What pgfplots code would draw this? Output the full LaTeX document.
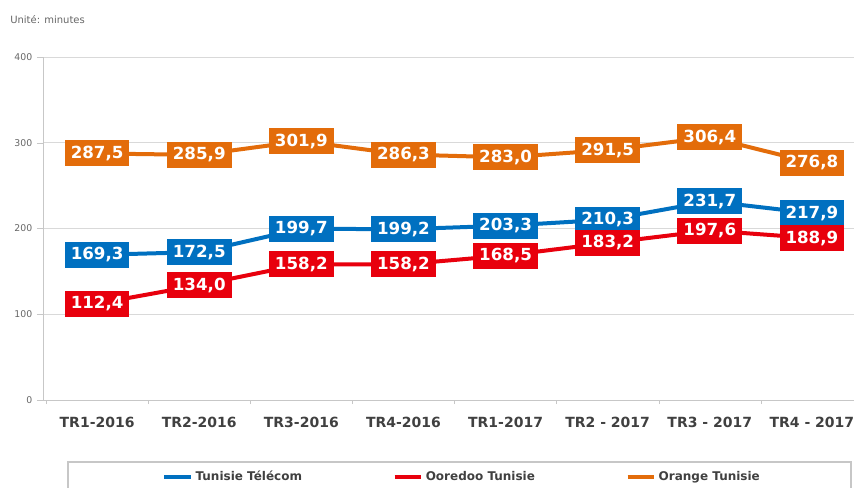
\documentclass[border=0pt]{standalone}
\usepackage{pgfplots}
\pgfplotsset{compat=1.18}
\usepackage{fontspec}
\setmainfont{DejaVu Sans}
\definecolor{tt}{HTML}{0070C0}
\definecolor{oo}{HTML}{E8000D}
\definecolor{orng}{HTML}{E36C0A}
\definecolor{gridc}{HTML}{D9D9D9}
\definecolor{txt}{HTML}{404040}

\begin{document}
\begin{tikzpicture}
% 1px of the reference = 0.75pt
\clip (0,0) rectangle (640.5pt,-365.25pt);
\node[anchor=west, text=txt!80, font=\fontsize{7.5}{9}\selectfont, inner sep=0pt] at (7.5pt,-15pt) {Unité: minutes};
\begin{axis}[
  at={(32.25pt,-300pt)}, anchor=south west,
  scale only axis, width=617.25pt, height=257.25pt,
  xmin=-0.53, xmax=7.53, ymin=0, ymax=400,
  axis lines*=left, axis line style={gridc!80!gray},
  ytick={0,100,...,400}, ymajorgrids, grid style={gridc, line width=0.6pt},
  yticklabel style={font=\fontsize{7}{9}\selectfont, text=txt!80},
  /pgf/number format/assume math mode=true,
  xtick={0,...,7},
  xticklabels={TR1-2016,TR2-2016,TR3-2016,TR4-2016,TR1-2017,TR2 - 2017,TR3 - 2017,TR4 - 2017},
  xticklabel style={font=\bfseries\fontsize{10.5}{12}\selectfont, text=txt, yshift=-4.5pt},
  major x tick style={draw=none},
  minor xtick={-0.5,0.5,...,7.5},
  tick align=outside, major tick length=4.5pt, minor tick length=3pt,
  tick style={gridc!80!gray},
  nodes near coords={\pgfmathprintnumber[fixed,fixed zerofill,precision=1,use comma]{\pgfplotspointmeta}},
  every node near coord/.append style={anchor=center, text=white,
    font=\bfseries\fontsize{12.5}{14}\selectfont, inner xsep=4.5pt, inner ysep=0pt, minimum height=19.5pt},
  legend columns=3,
  legend style={draw=none, fill=none, at={(0.14,-0.2245)}, anchor=west,
    font=\bfseries\fontsize{9}{10}\selectfont, text=txt,
    /tikz/every even column/.append style={column sep=66pt}},
  legend image code/.code={\draw[#1, line width=2.8pt] (0pt,0pt) -- (20pt,0pt);},
]
\addplot[tt, line width=3pt, every node near coord/.append style={fill=tt}] coordinates {
(0,169.3) (1,172.5) (2,199.7) (3,199.2) (4,203.3) (5,210.3) (6,231.7) (7,217.9)
};
\addlegendentry{Tunisie Télécom}
\addplot[oo, line width=3pt, every node near coord/.append style={fill=oo}] coordinates {
(0,112.4) (1,134.0) (2,158.2) (3,158.2) (4,168.5) (5,183.2) (6,197.6) (7,188.9)
};
\addlegendentry{Ooredoo Tunisie}
\addplot[orng, line width=3pt, every node near coord/.append style={fill=orng}] coordinates {
(0,287.5) (1,285.9) (2,301.9) (3,286.3) (4,283.0) (5,291.5) (6,306.4) (7,276.8)
};
\addlegendentry{Orange Tunisie}
\end{axis}
\draw[gridc!80!gray, line width=0.8pt] (51pt,-346.5pt) rectangle (638.25pt,-380pt);
\end{tikzpicture}
\end{document}
